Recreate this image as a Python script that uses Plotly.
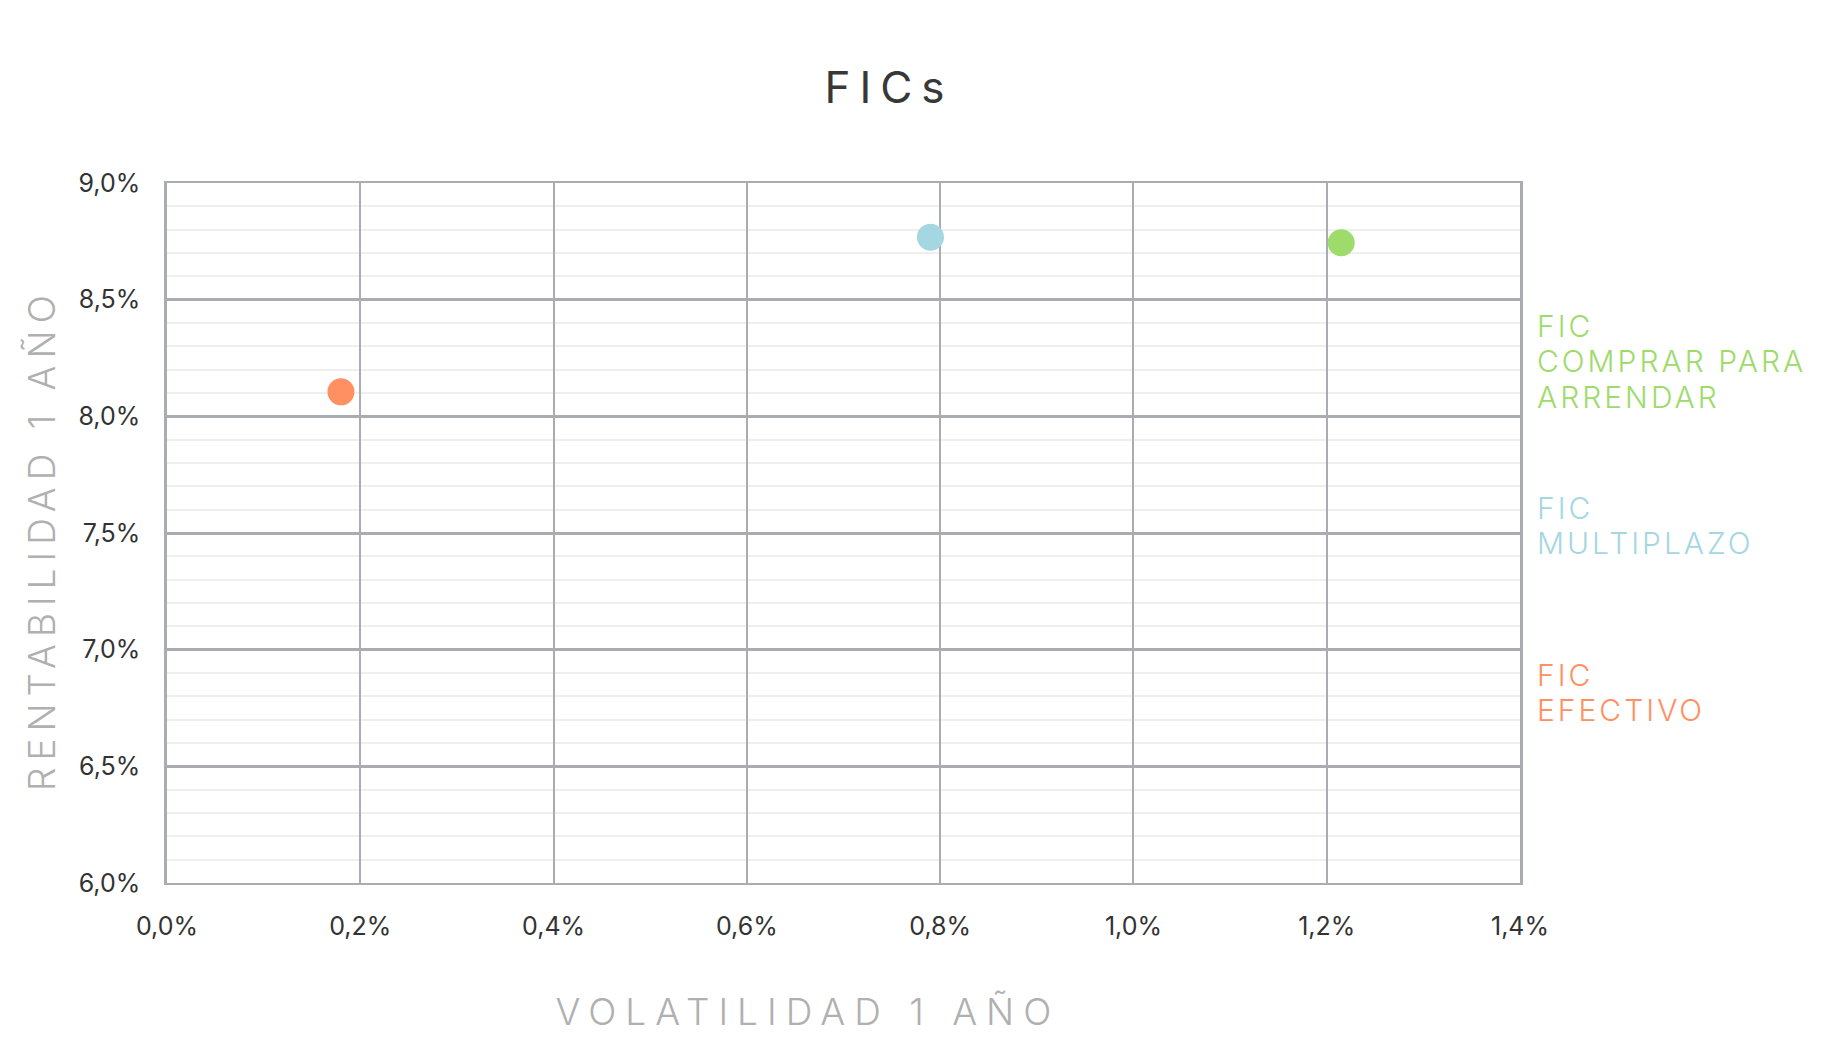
import plotly.graph_objects as go

# ---- data ----
funds = ["FIC EFECTIVO", "FIC MULTIPLAZO", "FIC COMPRAR PARA ARRENDAR"]
volatility_1y = [0.18, 0.79, 1.215]      # % (x)
return_1y = [8.105, 8.768, 8.744]        # % (y)
fund_colors = ["#FF9062", "#A5D7E2", "#9DDB6B"]
label_lines = [["FIC", "EFECTIVO"], ["FIC", "MULTIPLAZO"], ["FIC", "COMPRAR PARA", "ARRENDAR"]]
x_tick_vals = [0.0, 0.2, 0.4, 0.6, 0.8, 1.0, 1.2, 1.4]
y_tick_vals = [6.0, 6.5, 7.0, 7.5, 8.0, 8.5, 9.0]
title_text = "FICs"
x_title = "VOLATILIDAD 1 AÑO"
y_title = "RENTABILIDAD 1 AÑO"


def pct_label(v):
    return f"{v:.1f}%".replace(".", ",")


x_tick_text = [pct_label(v) for v in x_tick_vals]
y_tick_text = [pct_label(v) for v in y_tick_vals]

# ---- layout constants (pixels) ----
W, H = 1840, 1056
ML, MR, MT, MB = 167, 320, 183, 173
PW, PH = W - ML - MR, H - MT - MB
FONT = "Inter, Noto Sans, sans-serif"
GRID = "#A9ACB1"
LABEL_SIZE = 30
label_first_line_y = [674.5, 508.0, 325.5]  # pixel y of first line of each label block
label_x_px = 1535


def px_to_paper_x(px):
    return (px - ML) / PW


def px_to_paper_y(py):
    return (H - MB - py) / PH


fig = go.Figure()
for name, xv, yv, col in zip(funds, volatility_1y, return_1y, fund_colors):
    fig.add_trace(go.Scatter(
        x=[xv], y=[yv], mode="markers", name=name,
        marker=dict(size=27, color=col, line=dict(width=0)),
        hovertemplate=name + "<br>%{x:.2f}%<br>%{y:.2f}%<extra></extra>",
    ))

annotations = [
    dict(text=x_title, xref="paper", yref="paper",
         x=px_to_paper_x(808), y=px_to_paper_y(1011),
         xanchor="center", yanchor="middle", showarrow=False,
         font=dict(family=FONT, size=37, color="#B0B0B0", weight=300)),
    dict(text=y_title, xref="paper", yref="paper",
         x=px_to_paper_x(41), y=px_to_paper_y(540),
         xanchor="center", yanchor="middle", showarrow=False, textangle=-90,
         font=dict(family=FONT, size=37, color="#B0B0B0", weight=300)),
]
for lines, col, y0 in zip(label_lines, fund_colors, label_first_line_y):
    # plotly centres the block using its own 1.3em line height
    yc = y0 + (len(lines) - 1) * 1.3 * LABEL_SIZE / 2
    annotations.append(dict(
        text="<br>".join(lines), xref="paper", yref="paper",
        x=px_to_paper_x(label_x_px), y=px_to_paper_y(yc),
        xanchor="left", yanchor="middle", align="left", showarrow=False,
        font=dict(family=FONT, size=LABEL_SIZE, color=col, weight=300),
    ))

fig.update_layout(
    width=W, height=H,
    margin=dict(l=ML, r=MR, t=MT, b=MB, pad=0),
    paper_bgcolor="white", plot_bgcolor="white",
    showlegend=False,
    title=dict(text=title_text, x=889 / W, y=1 - 88 / H, xanchor="center", yanchor="middle",
               font=dict(family=FONT, size=44, color="#383838")),
    annotations=annotations,
    xaxis=dict(
        range=[0, 1.4], tickvals=x_tick_vals, ticktext=x_tick_text,
        showgrid=True, gridcolor=GRID, gridwidth=2,
        showline=True, linecolor=GRID, linewidth=2, mirror=True,
        zeroline=False, ticks="", ticklabelstandoff=20,
        tickfont=dict(family=FONT, size=25, color="#333333"),
        fixedrange=True,
    ),
    yaxis=dict(
        range=[6, 9], tickvals=y_tick_vals, ticktext=y_tick_text,
        showgrid=True, gridcolor=GRID, gridwidth=2.5,
        showline=True, linecolor=GRID, linewidth=2.5, mirror=True,
        zeroline=False, ticks="", ticklabelstandoff=19,
        tickfont=dict(family=FONT, size=25, color="#333333"),
        minor=dict(dtick=0.1, showgrid=True, gridcolor="#EFEFEF", gridwidth=1.5),
        fixedrange=True,
    ),
)

post_script = """
document.body.style.margin = '0';
document.body.style.overflow = 'hidden';
var gd = document.getElementById('{plot_id}');
function applySpacing(){
  gd.querySelectorAll('.gtitle').forEach(function(e){ e.style.letterSpacing = '9px'; });
  gd.querySelectorAll('.annotation[data-index="0"] text').forEach(function(e){ e.style.letterSpacing = '9px'; });
  gd.querySelectorAll('.annotation[data-index="1"] text').forEach(function(e){ e.style.letterSpacing = '7px'; });
  ['2','3','4'].forEach(function(i){
    gd.querySelectorAll('.annotation[data-index="' + i + '"] text').forEach(function(e){
      e.style.letterSpacing = '3px';
      if (!e.dataset.tight) {
        e.querySelectorAll('tspan.line').forEach(function(t){
          var dy = t.getAttribute('dy');
          if (dy && parseFloat(dy) !== 0) {
            t.setAttribute('dy', (parseFloat(dy) * 0.905) + 'em');
          }
        });
        e.dataset.tight = '1';
      }
    });
  });
}
applySpacing();
gd.on('plotly_afterplot', applySpacing);
"""

fig.write_html("out.html", post_script=post_script, config={"displayModeBar": False})
